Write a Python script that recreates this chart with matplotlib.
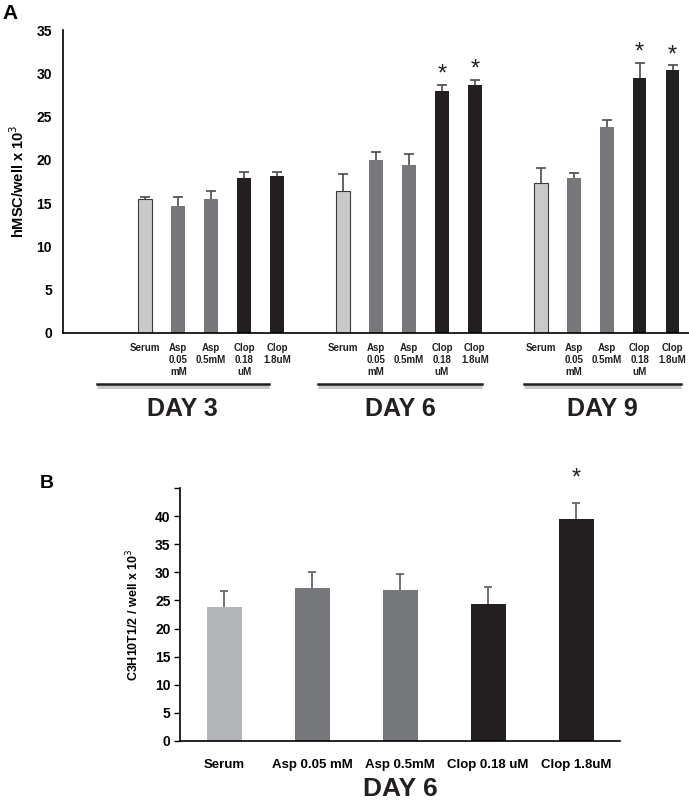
import numpy as np
import matplotlib.pyplot as plt
from matplotlib.transforms import blended_transform_factory

plt.rcParams['font.family'] = ['Liberation Sans', 'DejaVu Sans']

# --- panel A data: hMSC count per well (x 10^3)
days_a = ["DAY 3", "DAY 6", "DAY 9"]
labels_a = ["Serum", "Asp\n0.05\nmM", "Asp\n0.5mM", "Clop\n0.18\nuM", "Clop\n1.8uM"]
mean_day3 = [15.5, 14.6, 15.5, 17.9, 18.15]
err_day3 = [0.2, 1.05, 0.85, 0.7, 0.45]
mean_day6 = [16.4, 20.0, 19.4, 27.95, 28.6]
err_day6 = [1.9, 0.9, 1.25, 0.75, 0.6]
mean_day9 = [17.3, 17.9, 23.8, 29.4, 30.4]
err_day9 = [1.75, 0.6, 0.85, 1.75, 0.5]
sig_day6 = [False, False, False, True, True]
sig_day9 = [False, False, False, True, True]

# --- panel B data: C3H10T1/2 count per well (x 10^3), day 6
labels_b = ["Serum", "Asp 0.05 mM", "Asp 0.5mM", "Clop 0.18 uM", "Clop 1.8uM"]
mean_b = [23.85, 27.2, 26.85, 24.35, 39.4]
err_b = [2.85, 2.8, 2.85, 2.95, 2.9]
sig_b = [False, False, False, False, True]

col_a = ["#c8c9cb", "#77787c", "#77787c", "#231f20", "#231f20"]
col_b = ["#b3b4b8", "#76777b", "#76777b", "#231f20", "#231f20"]

fig = plt.figure(figsize=(6.89, 8.0), dpi=100)

# ---------------- panel A
ax = fig.add_axes([0.0914, 0.584, 0.9086, 0.3785])
means = [mean_day3, mean_day6, mean_day9]
errs = [err_day3, err_day6, err_day9]
sigs = [[False] * 5, sig_day6, sig_day9]
starts = [2, 8, 14]
for g in range(3):
    x = np.arange(5) + starts[g]
    ax.bar(x, means[g], width=0.42, color=col_a, edgecolor=["#3a3a3a", "none", "none", "none", "none"],
           linewidth=0.8, zorder=2)
    ln, caps, bars = ax.errorbar(x, means[g], yerr=[np.zeros(5), errs[g]], fmt="none",
                                 ecolor="#4a4a4a", elinewidth=1.2, capsize=3.5, capthick=1.2, zorder=1)
    caps[0].set_visible(False)
    for xi, m, e, s in zip(x, means[g], errs[g], sigs[g]):
        if s:
            ax.text(xi, m + e + 1.2, "*", ha="center", va="center", fontsize=17, color="#231f20")
    for xi, lab in zip(x, labels_a):
        ax.text(xi, -0.035, lab, transform=blended_transform_factory(ax.transData, ax.transAxes),
                ha="center", va="top", fontsize=7, fontweight="bold", linespacing=1.25,
                color="#231f20")

ax.set_xlim(-0.5, 18.5)
ax.set_ylim(0, 35)
ax.set_yticks(np.arange(0, 36, 5))
ax.set_xticks([])
ax.tick_params(axis="y", length=0, labelsize=10, pad=8)
for t in ax.get_yticklabels():
    t.set_fontweight("bold")
ax.spines["top"].set_visible(False)
ax.spines["right"].set_visible(False)
ax.spines["left"].set_linewidth(1.2)
ax.spines["bottom"].set_linewidth(1.2)
ax.set_ylabel("hMSC/well x 10$^3$", fontsize=10.5, fontweight="bold", labelpad=7)

tr = blended_transform_factory(ax.transData, ax.transAxes)
group_spans = [(0.53, 5.74), (7.23, 12.23), (13.5, 18.26)]
for (x0, x1), d in zip(group_spans, days_a):
    ax.plot([x0, x1], [-0.175, -0.175], transform=tr, clip_on=False, color="#c8c8c8", lw=3.5,
            solid_capstyle="butt")
    ax.plot([x0, x1], [-0.17, -0.17], transform=tr, clip_on=False, color="#231f20", lw=1.8)
    ax.text((x0 + x1) / 2, -0.25, d, transform=tr, ha="center", va="center",
            fontsize=18, fontweight="bold", color="#231f20")

fig.text(0.003, 0.995, "A", fontsize=15, fontweight="bold", va="top", ha="left")

# ---------------- panel B
bx = fig.add_axes([0.2615, 0.0738, 0.6385, 0.3162])
xb = np.arange(5)
bx.bar(xb, mean_b, width=0.4, color=col_b, zorder=2)
ln, caps, bars = bx.errorbar(xb, mean_b, yerr=[np.zeros(5), err_b], fmt="none", ecolor="#5a5a5a",
                             elinewidth=1.2, capsize=3, capthick=1.2, zorder=1)
caps[0].set_visible(False)
for xi, m, e, s in zip(xb, mean_b, err_b, sig_b):
    if s:
        bx.text(xi, m + e + 4.4, "*", ha="center", va="center", fontsize=17, color="#231f20")
bx.set_xlim(-0.5, 4.5)
bx.set_ylim(0, 45)
bx.set_yticks(np.arange(0, 46, 5))
bx.set_yticklabels([str(v) for v in range(0, 41, 5)] + [""])
bx.set_xticks(xb)
bx.set_xticklabels(labels_b, fontsize=9.5, fontweight="bold")
bx.tick_params(axis="x", length=0, pad=13)
bx.tick_params(axis="y", length=4, width=1, labelsize=10, pad=3)
for t in bx.get_yticklabels():
    t.set_fontweight("bold")
bx.spines["top"].set_visible(False)
bx.spines["right"].set_visible(False)
bx.spines["left"].set_linewidth(1.2)
bx.spines["bottom"].set_linewidth(1.2)
bx.set_ylabel("C3H10T1/2 / well x 10$^3$", fontsize=9, fontweight="bold", labelpad=10)
bx.text(0.5, -0.19, "DAY 6", transform=bx.transAxes, ha="center", va="center", fontsize=19,
        fontweight="bold", color="#231f20")

fig.text(0.058, 0.395, "B", fontsize=14, fontweight="bold", va="center", ha="left")

fig.savefig("out.png", dpi=100)
